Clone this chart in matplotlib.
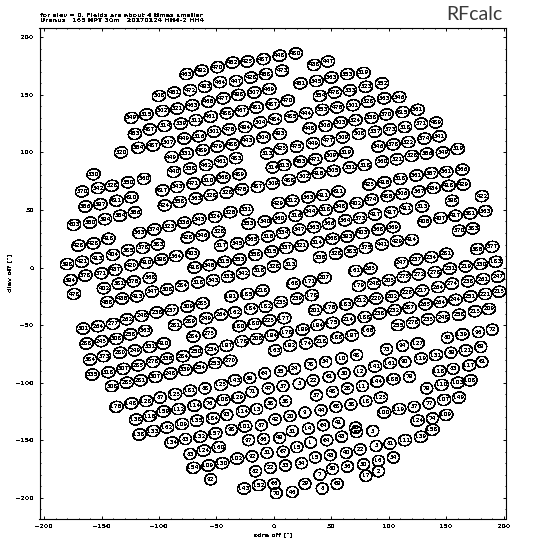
import matplotlib
matplotlib.use("Agg")
import matplotlib.pyplot as plt
from matplotlib.patches import Ellipse
from matplotlib.ticker import MultipleLocator

beams = [
(-76,168,463),(-63,171,492),(-49,174,470),(-36,178,452),(-23,179,425),(-9,181,487),(5,184,448),(19,186,480),
(-100,149,508),(-87,152,451),(-73,154,472),(-60,157,493),(-47,161,464),(-33,162,447),(-20,165,428),(-7,168,458),(7,171,473),(35,176,438),(47,179,447),
(-124,130,549),(-111,133,515),(-97,136,502),(-84,138,521),(-71,141,463),(-57,144,466),(-44,147,477),(-31,150,498),(-17,152,507),(-4,155,469),
(23,160,451),(37,162,545),(50,165,563),(64,168,553),(78,169,519),
(-121,116,453),(-108,120,487),(-95,123,514),(-81,125,539),(-68,128,511),(-55,131,461),(-41,134,488),(-28,136,467),(-15,139,481),(-1,142,487),
(12,145,470),(40,149,554),(53,152,478),(66,154,533),(80,157,523),(94,160,552),
(-133,100,520),(-118,104,584),(-105,106,487),(-92,109,507),(-78,112,449),(-65,114,516),(-52,118,501),(-39,120,476),(-25,122,494),(-12,126,504),(1,129,484),
(15,131,485),(28,134,444),(42,137,553),(55,139,476),(69,141,501),(82,144,528),(96,147,563),(109,148,546),
(-89,96,449),(-76,99,531),(-62,102,489),(-49,105,479),(-36,107,488),(-23,110,443),(-9,113,504),(5,116,493),
(31,121,448),(45,123,506),(58,126,503),(71,128,524),(85,130,538),(98,133,570),(112,135,615),(125,137,561),
(-46,92,461),(-33,95,483),(-6,99,513),(6,103,423),(20,105,475),(34,108,449),(47,110,477),(60,113,509),(74,116,508),(88,118,537),(101,120,573),(114,122,518),(128,125,571),(141,126,489),
(63,100,519),(50,97,509),(36,94,471),(23,92,453),(9,89,513),(-1,87,314),
(91,105,546),(104,107,578),(117,109,522),(131,112,574),(144,114,541),
(79,89,518),(94,92,560),(107,94,521),(120,97,528),(133,99,586),(147,100,549),(160,103,519),
(39,82,416),(52,84,505),(66,87,531),(13,76,488),(26,79,502),
(83,72,423),(96,74,416),(110,77,518),(124,80,561),(137,82,587),(150,83,561),(164,85,566),
(139,69,434),(152,71,418),(165,72,429),(99,62,486),(112,64,506),(126,66,567),
(4,56,429),(16,58,512),(30,61,563),(43,63,411),(56,66,611),
(72,56,402),(85,59,574),(155,58,398),(181,62,422),
(129,53,513),(115,51,411),(102,48,417),(88,46,417),(75,43,573),(62,41,564),(48,38,566),(35,35,563),(22,33,547),(8,30,534),
(45,50,518),(58,53,548),(32,49,544),(19,45,516),(5,43,560),
(131,40,406),(145,43,407),(158,45,417),(171,47,381),(184,49,363),(161,32,370),(173,34,383),
(104,35,369),(91,33,368),(77,30,403),(64,27,393),(51,25,368),(38,22,314),(24,19,321),(11,17,337),(-2,14,315),
(120,24,414),(107,23,429),(94,20,441),(80,17,375),(67,14,383),(54,12,328),(40,9,336),
(177,16,386),(190,18,377),(14,3,313),(0,1,326),
(111,4,247),(124,7,237),(137,9,234),(150,12,281),(167,1,219),(180,3,330),(193,5,183),
(84,-1,263),(71,-3,161),(44,-9,207),(31,-12,171),(17,-14,168),
(153,-1,231),(140,-4,276),(126,-6,272),(113,-8,275),(100,-11,203),(87,-14,246),(74,-16,179),
(182,-10,261),(195,-8,247),(169,-12,238),(155,-14,274),(143,-17,264),(129,-20,217),(116,-22,226),(103,-25,202),(89,-27,220),(76,-29,212),(63,-32,183),(49,-35,176),(36,-37,201),
(196,-21,213),(184,-23,221),(171,-25,251),(158,-28,244),(145,-30,264),(132,-32,265),(118,-35,287),(105,-37,232),(92,-40,236),(79,-43,188),(65,-45,214),(51,-48,175),(38,-50,194),(25,-54,199),(11,-56,178),
(187,-36,209),(175,-38,213),(161,-41,258),(147,-43,248),(134,-45,233),(121,-48,276),(108,-50,255),
(33,-24,178),(20,-27,239),(6,-30,233),(9,-44,177),
(82,-55,166),(68,-59,197),(55,-61,188),(41,-64,218),(28,-66,174),(14,-68,192),(1,-72,163),
(-157,81,530),(-167,66,570),(-153,69,542),(-141,71,528),(-127,74,550),(-113,77,560),
(-164,53,586),(-151,55,597),(-137,58,611),(-124,61,610),
(-87,83,440),(-73,86,538),(-59,89,462),
(-57,76,510),(-44,78,568),(-30,81,489),(-70,73,471),(-84,70,543),(-97,67,617),
(-95,54,424),(-82,57,558),(-68,60,563),(-55,63,528),(-41,65,528),(-28,68,476),(-14,70,487),(-1,73,509),
(-174,37,603),(-160,39,580),(-147,42,594),(-134,45,584),(-121,48,586),
(-117,30,563),(-104,33,574),(-91,36,523),(-78,39,536),(-65,42,543),(-51,44,524),(-38,48,526),(-24,50,531),
(-22,38,553),(-8,40,540),(-75,26,428),(-62,28,546),(-48,31,528),
(-46,19,317),(-32,21,545),(-19,24,365),(-5,27,316),
(-170,19,426),(-157,21,428),(-144,25,418),(-127,15,385),(-114,17,378),(-101,20,383),
(-71,12,403),(-30,7,353),(-16,11,358),(-43,5,315),
(-180,3,398),(-167,5,421),(-154,8,413),(-140,11,404),
(-124,2,420),(-111,4,410),(-98,7,398),(-85,10,364),(-69,0,418),(-56,2,346),
(-27,-5,342),(-13,-3,318),(-40,-8,333),(-53,-11,343),(-66,-13,318),(-80,-16,284),(-93,-19,308),(-106,-21,347),(-119,-25,413),(-132,-27,436),(-145,-30,458),
(-177,-11,394),(-164,-7,378),(-150,-5,371),(-138,-2,437),(-148,-18,402),(-135,-14,381),(-122,-12,376),(-108,-9,368),(-174,-23,478),
(-37,-25,191),(-23,-23,185),(-10,-20,218),
(-62,-31,283),(-75,-34,309),(-89,-37,237),(-102,-39,238),(-115,-42,248),(-128,-45,262),(-140,-49,277),(-153,-51,264),(-166,-53,301),
(-86,-50,281),(-73,-47,289),(-59,-44,249),(-46,-41,264),(-34,-39,162),(-20,-36,184),(-7,-34,182),
(-30,-51,180),(-17,-49,180),(-4,-46,223),(-56,-57,273),(-70,-60,284),
(-112,-55,363),(-125,-58,258),(-137,-62,308),(-150,-64,243),(-163,-66,288),
(-28,-64,178),(-15,-62,206),(-2,-59,194),(-96,-66,410),(-108,-69,331),
(-160,-80,384),(-148,-77,373),(-134,-74,280),(-121,-72,249),
(-93,-79,336),(-79,-77,284),(-68,-73,250),(-54,-71,234),(-41,-68,197),
(-158,-93,335),(-144,-91,318),(-131,-88,307),(-118,-85,285),(-105,-82,276),
(-141,-103,308),(-128,-100,283),(-116,-98,281),(-103,-95,307),(-90,-92,248),(-77,-89,339),(-64,-87,254),(-51,-83,253),(-38,-81,270),
(-137,-121,176),(-124,-118,148),(-111,-116,126),(-99,-113,87),(-86,-110,123),(-73,-107,181),(-60,-105,88),(-46,-102,123),(-34,-98,143),(-21,-96,89),(-8,-92,64),
(-120,-132,138),(-108,-129,116),(-96,-125,159),(-83,-123,112),(-69,-120,114),(-56,-118,76),(-44,-115,108),(-31,-113,129),(-19,-108,71),(-5,-105,47),
(-117,-145,138),(-105,-142,133),(-93,-139,162),(-80,-136,109),(-67,-133,135),(-53,-131,184),(-41,-128,93),(-27,-125,114),(-15,-123,13),(-3,-118,38),
(-89,-152,134),(-77,-149,83),(-64,-147,132),(-51,-144,157),(-37,-141,98),(-25,-138,101),(-11,-137,87),(1,-132,42),
(-73,-162,83),(-61,-159,124),(-48,-156,160),(-22,-150,97),(-9,-149,86),
(-70,-174,154),(-57,-172,109),(-45,-170,130),(-32,-166,102),(-19,-164,92),(-6,-161,51),
(-55,-184,92),(-16,-177,82),(-3,-174,22),(-26,-192,143),(-13,-189,152),(0,-188,66),(2,-196,70),
(98,-71,73),(112,-68,94),(125,-66,127),(151,-61,80),(164,-58,139),(178,-56,96),(190,-54,72),
(101,-83,161),(114,-82,90),(128,-79,119),(141,-76,131),(154,-74,89),(167,-72,121),(180,-69,69),
(144,-90,118),(156,-88,83),(170,-85,117),(181,-82,61),
(6,-90,35),(18,-88,24),(32,-84,78),(45,-82,34),(59,-79,10),(72,-76,48),
(88,-86,141),(75,-90,12),(61,-92,30),(48,-95,61),(34,-98,22),(22,-101,5),(8,-103,37),
(90,-99,144),(104,-97,186),(118,-95,79),(133,-105,79),(146,-102,110),(160,-100,103),(171,-98,108),
(37,-111,57),(51,-108,48),(64,-105,28),(77,-103,11),(10,-116,38),
(67,-119,38),(54,-121,68),(41,-124,44),(27,-126,9),(14,-129,20),
(80,-116,18),(93,-113,123),
(96,-126,100),(109,-123,119),(122,-121,37),(135,-118,77),(148,-115,107),(161,-113,149),
(125,-133,124),(138,-131,74),(150,-128,109),
(138,-141,158),(128,-147,139),(114,-150,111),(101,-153,81),(89,-155,5),(75,-158,22),
(86,-142,3),(71,-139,65),(72,-143,59),(56,-135,41),(43,-137,64),(30,-140,14),(16,-142,31),(5,-148,49),
(59,-147,43),(46,-150,64),(32,-152,1),(20,-156,15),(8,-160,67),
(63,-161,40),(49,-163,43),(36,-165,15),(24,-170,34),(10,-172,33),
(104,-165,54),(91,-168,16),(78,-171,30),(64,-173,56),(51,-175,80),(91,-177,2),(80,-181,17),(40,-180,7),
(27,-188,29),(55,-188,69),(42,-192,8),(16,-195,46),
]
x_offsets = [b[0] for b in beams]
y_offsets = [b[1] for b in beams]
beam_labels = [str(b[2]) for b in beams]

title_lines = ["for elev = 0. Fields are about 4 times smaller",
               "Uranus   165 NPT 30m   20170124 HH4-2 HH4"]
x_major_ticks = [-200, -150, -100, -50, 0, 50, 100, 150, 200]
y_major_ticks = [-200, -150, -100, -50, 0, 50, 100, 150, 200]

plt.rcParams['text.antialiased'] = False
W, H = 544, 539
fig = plt.figure(figsize=(W / 100, H / 100), dpi=100, facecolor='white')
L, R, T, B = 39.5, 505.5, 27.5, 518.5
ax = fig.add_axes([L / W, 1 - B / H, (R - L) / W, (B - T) / H])
ax.set_xlim(-204, 201.5)
ax.set_ylim(-218, 208.5)

for x, y, s in zip(x_offsets, y_offsets, beam_labels):
    w = 11.6 if len(s) == 3 else 10.4
    ax.add_patch(Ellipse((x, y), w, 9.6, angle=12, fill=False, ec='black', lw=0.35, antialiased=False))
    ax.text(x, y, s, ha='center', va='center', fontsize=3.9, fontweight='bold', color='black')

ax.set_xticks(x_major_ticks)
ax.set_yticks(y_major_ticks)
ax.xaxis.set_minor_locator(MultipleLocator(10))
ax.yaxis.set_minor_locator(MultipleLocator(10))
ax.tick_params(which='major', direction='in', length=2, width=0.7, top=True, right=True, labelsize=4.6, pad=4)
ax.tick_params(which='minor', direction='in', length=1, width=0.7, top=True, right=True)
for t in ax.get_xticklabels() + ax.get_yticklabels():
    t.set_fontweight('bold')
for sp in ax.spines.values():
    sp.set_linewidth(0.8)
ax.set_xlabel('xdra off ["]', fontsize=4.6, fontweight='bold', labelpad=2.5)
ax.set_ylabel('dlev off ["]', fontsize=4.6, fontweight='bold', labelpad=2)

fig.text(39.5 / W, 1 - 15.5 / H, title_lines[0], fontsize=4.6, fontweight='bold', va='center', ha='left')
fig.text(39.5 / W, 1 - 21 / H, title_lines[1], fontsize=4.6, fontweight='bold', va='center', ha='left')
rf = fig.text(503 / W, 1 - 14 / H, 'RFcalc', fontsize=14, family='Lato', va='center', ha='right', color='#3a3a3a')
rf.set_antialiased(True)
fig.savefig('out.png', dpi=100)
